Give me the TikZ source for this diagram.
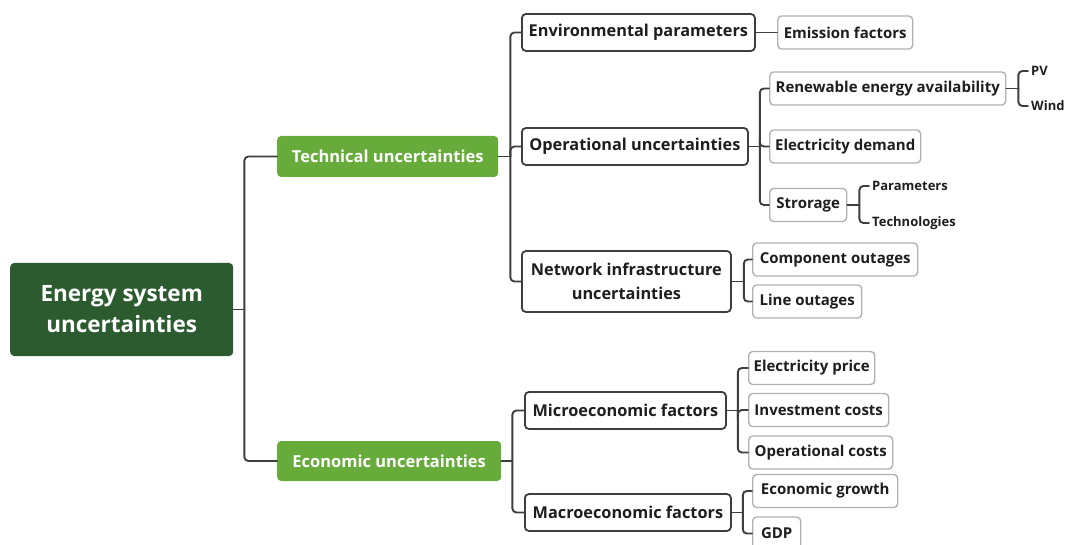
\documentclass[tikz,border=0pt]{standalone}
\usepackage{fontspec}
\setmainfont{Open Sans}
\usetikzlibrary{calc}

\definecolor{rootgreen}{RGB}{44,91,48}
\definecolor{groupgreen}{RGB}{103,172,58}
\definecolor{linegray}{RGB}{62,62,62}
\definecolor{boxgray}{RGB}{178,178,178}
\definecolor{textgray}{RGB}{30,30,30}

\tikzset{%
rootbox/.style={rectangle, rounded corners=4pt, fill=rootgreen, text=white, font=\fontsize{22.5}{31}\selectfont\bfseries, align=center, inner sep=0, anchor=west},
groupbox/.style={rectangle, rounded corners=4pt, fill=groupgreen, text=white, font=\fontsize{16.5}{19}\selectfont\bfseries, inner sep=0, anchor=west},
factorbox/.style={rectangle, rounded corners=4pt, draw=linegray, line width=1.8pt, fill=white, text=textgray, font=\fontsize{16.3}{24}\selectfont\bfseries, align=center, inner sep=0, anchor=west},
detailbox/.style={rectangle, rounded corners=4pt, draw=boxgray, line width=1.4pt, fill=white, text=textgray, font=\fontsize{15}{18}\selectfont\bfseries, inner sep=0, anchor=west},
tiptext/.style={text=textgray, font=\fontsize{13}{15}\selectfont\bfseries, inner sep=3pt, anchor=west},
branchline/.style={line width=1.9pt, linegray, line cap=round, rounded corners=4pt}%
}

% arguments: name of parent, offset of the trunk
\newcommand{\settrunk}[2]{%
\path ([xshift=#2] #1.east) node [shape=coordinate] (#1trunk) {} ;
\draw [branchline] (#1.east) -- (#1trunk) ;
}

% arguments: name of parent, name of child
\newcommand{\branchto}[2]{%
\draw [branchline] (#1trunk) |- (#2.west) ;
}

\begin{document}
\begin{tikzpicture}[x=1pt, y=-1pt]

\useasboundingbox (0, 0) rectangle (1070, 545) ;
\clip (0, 0) rectangle (1070, 545) ;

% place boxes

\path (10, 309.5) node [rootbox, minimum width=223, minimum height=93] (root) {Energy system\\uncertainties} ;

\path (277, 156.5) node [groupbox, minimum width=221, minimum height=41] (tech) {Technical uncertainties} ;
\path (277, 461) node [groupbox, minimum width=224, minimum height=40] (econ) {Economic uncertainties} ;

\path (521, 32.5) node [factorbox, minimum width=233, minimum height=37] (env) {Environmental parameters} ;
\path (521, 146.5) node [factorbox, minimum width=226, minimum height=37] (oper) {Operational uncertainties} ;
\path (521, 281.5) node [factorbox, minimum width=209, minimum height=61] (netw) {Network infrastructure\\uncertainties} ;
\path (524, 410.5) node [factorbox, minimum width=201, minimum height=37] (micro) {Microeconomic factors} ;
\path (524, 512.5) node [factorbox, minimum width=206, minimum height=37] (macro) {Macroeconomic factors} ;

\path (777, 32.5) node [detailbox, minimum width=135, minimum height=33] (emis) {Emission factors} ;
\path (769, 88.5) node [detailbox, minimum width=236, minimum height=33] (renew) {Renewable energy availability} ;
\path (769, 146.5) node [detailbox, minimum width=151, minimum height=33] (demand) {Electricity demand} ;
\path (769, 205) node [detailbox, minimum width=77, minimum height=33] (stor) {Strorage} ;
\path (752, 259.5) node [detailbox, minimum width=165, minimum height=33] (comp) {Component outages} ;
\path (752, 301.5) node [detailbox, minimum width=109, minimum height=33] (line) {Line outages} ;
\path (748, 368) node [detailbox, minimum width=126, minimum height=33] (price) {Electricity price} ;
\path (748, 410) node [detailbox, minimum width=140, minimum height=33] (invest) {Investment costs} ;
\path (748, 452.5) node [detailbox, minimum width=144, minimum height=33] (opcost) {Operational costs} ;
\path (752, 491) node [detailbox, minimum width=145, minimum height=33] (growth) {Economic growth} ;
\path (752, 533.5) node [detailbox, minimum width=48, minimum height=33] (gdp) {GDP} ;

\path (1028, 71) node [tiptext] (pv) {PV} ;
\path (1028, 106) node [tiptext] (wind) {Wind} ;
\path (869, 186) node [tiptext] (param) {Parameters} ;
\path (869, 223) node [tiptext] (techno) {Technologies} ;

% draw branches

\settrunk{root}{11pt}
\branchto{root}{tech}
\branchto{root}{econ}

\settrunk{tech}{12pt}
\branchto{tech}{env}
\branchto{tech}{oper}
\branchto{tech}{netw}

\settrunk{econ}{11pt}
\branchto{econ}{micro}
\branchto{econ}{macro}

\draw [branchline] (env.east) -- (emis.west) ;

\settrunk{oper}{11pt}
\branchto{oper}{renew}
\branchto{oper}{demand}
\branchto{oper}{stor}

\settrunk{renew}{12pt}
\branchto{renew}{pv}
\branchto{renew}{wind}

\settrunk{stor}{12pt}
\branchto{stor}{param}
\branchto{stor}{techno}

\settrunk{netw}{12pt}
\branchto{netw}{comp}
\branchto{netw}{line}

\settrunk{micro}{11pt}
\branchto{micro}{price}
\branchto{micro}{invest}
\branchto{micro}{opcost}

\settrunk{macro}{11pt}
\branchto{macro}{growth}
\branchto{macro}{gdp}

\end{tikzpicture}
\end{document}
